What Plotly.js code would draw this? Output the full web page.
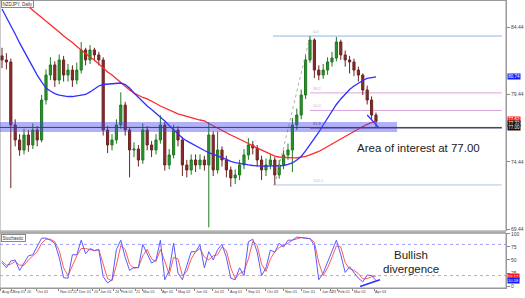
<!DOCTYPE html>
<html>
<head>
<meta charset="utf-8">
<script src="https://cdn.plot.ly/plotly-3.0.1.min.js"></script>
<style>html,body{margin:0;padding:0;background:#fff;}#chart{width:525px;height:298px;}</style>
</head>
<body>
<div id="chart"></div>
<script>
const open = [82.3,82.0,81.85,77.18,76.07,75.33,76.44,75.70,76.81,76.07,
  79.03,80.88,81.63,80.51,82.0,80.88,81.25,80.51,81.25,82.74,
  82.0,82.74,82.37,82.0,76.81,75.70,76.07,77.18,78.66,76.81,
  75.33,75.40,74.59,76.81,75.70,75.33,76.07,77.18,74.22,74.96,
  76.81,76.07,74.22,73.85,74.59,74.22,74.59,74.22,76.44,73.85,
  75.33,74.59,73.85,73.26,73.48,74.22,74.96,75.70,75.48,74.59,
  73.85,74.22,74.59,73.48,74.22,74.96,75.33,77.18,77.92,79.40,
  82.0,83.48,81.25,80.88,81.25,81.85,82.14,83.33,82.37,82.0,
  81.85,81.25,80.88,79.77,79.03,77.92];
const close = [82.0,81.85,77.18,76.07,75.33,76.44,75.70,76.81,76.07,79.03,
  80.88,81.63,80.51,82.0,80.88,81.25,80.51,81.25,82.74,82.0,
  82.74,82.37,82.0,76.81,75.70,76.07,77.18,78.66,76.81,75.33,
  75.40,74.59,76.81,75.70,75.33,76.07,77.18,74.22,74.96,76.81,
  76.07,74.22,73.85,74.59,74.22,74.59,74.22,76.44,73.85,75.33,
  74.59,73.85,73.26,73.48,74.22,74.96,75.70,75.48,74.59,73.85,
  74.22,74.59,73.48,74.22,74.96,75.33,77.18,77.92,79.40,82.0,
  83.48,81.25,80.88,81.25,81.85,82.14,83.33,82.37,82.0,81.85,
  81.25,80.88,79.77,79.03,77.92,77.45];
const high = [82.9,82.5,82.1,77.6,76.5,76.9,76.8,77.3,77.1,79.4,
  81.3,82.2,81.9,82.4,82.3,81.7,81.6,81.8,83.33,82.9,
  83.1,82.9,82.6,82.2,77.1,76.5,77.6,79.6,78.9,77.0,
  75.9,75.7,77.3,77.1,76.0,76.5,77.9,77.4,75.4,77.2,
  77.1,76.3,74.6,75.0,75.0,75.0,74.9,77.4,76.7,76.7,
  75.6,74.9,74.1,73.9,74.6,75.4,76.2,76.0,75.7,74.9,
  74.7,75.0,74.8,74.6,75.3,75.8,77.7,78.4,79.8,82.4,
  83.77,83.6,81.6,81.7,82.2,82.6,83.7,83.5,82.7,82.3,
  82.1,81.5,81.0,80.1,79.3,78.1];
const low = [81.4,81.3,72.5,75.6,74.9,75.0,75.2,75.4,75.6,75.9,
  78.7,80.5,80.0,80.2,80.4,80.4,80.0,80.2,81.0,81.6,
  81.7,81.9,81.6,76.4,75.1,75.3,75.8,76.9,76.4,73.3,
  74.8,74.1,74.3,75.3,74.8,75.0,75.8,73.8,73.9,74.7,
  75.6,73.4,73.3,73.5,73.7,73.9,73.8,69.6,73.4,73.6,
  74.1,73.3,72.6,72.8,73.1,73.9,74.6,75.0,74.1,73.1,
  73.4,73.9,72.74,73.2,73.9,74.6,73.7,76.8,77.6,79.1,
  81.8,80.66,80.5,80.6,80.9,81.5,81.9,82.0,81.5,81.0,
  80.8,80.4,79.4,78.7,77.6,76.95];

// ---- Moving averages ----
const maSlow = [87.55,87.26,86.96,86.74,86.44,86.22,85.96,85.66,85.40,85.11,
  84.88,84.63,84.33,84.07,83.77,83.55,83.29,83.0,82.77,82.48,
  82.22,82.0,81.70,81.40,81.11,80.88,80.59,80.29,80.07,79.77,
  79.55,79.37,79.22,79.11,78.96,78.77,78.59,78.44,78.29,78.14,
  78.0,77.92,77.81,77.74,77.63,77.55,77.48,77.29,77.11,76.96,
  76.77,76.63,76.44,76.29,76.14,75.96,75.81,75.63,75.48,75.29,
  75.14,75.0,74.88,74.81,74.77,74.74,74.74,74.74,74.77,74.85,
  74.96,75.07,75.22,75.40,75.59,75.77,75.96,76.14,76.33,76.52,
  76.70,76.89,77.07,77.22,77.37,77.48];
const maFast = [85.77,85.18,84.59,83.92,83.26,82.66,82.0,81.40,80.88,80.37,
  79.92,79.70,79.51,79.40,79.33,79.29,79.29,79.33,79.37,79.44,
  79.63,79.85,80.07,80.18,80.22,80.26,80.29,80.29,80.18,79.92,
  79.55,79.22,78.88,78.59,78.33,78.07,77.81,77.48,77.14,76.81,
  76.48,76.22,76.0,75.81,75.63,75.44,75.29,75.14,75.03,74.88,
  74.77,74.63,74.48,74.40,74.33,74.26,74.22,74.18,74.14,74.14,
  74.14,74.14,74.14,74.14,74.18,74.26,74.37,74.59,74.85,75.26,
  75.70,76.14,76.66,77.18,77.70,78.22,78.70,79.11,79.48,79.81,
  80.07,80.29,80.48,80.63,80.70,80.74];

// ---- Stochastic ----
const stochK = [45,35,48,50,30,45,58,60,75,92,
  92,88,82,55,16,15,60,60,88,62,
  72,68,70,18,6,12,70,88,55,30,
  36,35,80,62,44,50,88,12,30,82,
  25,12,40,66,66,79,35,66,50,70,
  80,55,15,12,35,20,85,90,65,20,
  35,69,65,82,75,88,88,94,93,92,
  91,78,12,25,45,65,88,60,26,37,
  25,15,8,21,20,10.58];
const stochD = [48,40,42,47,40,40,50,58,66,82,
  90,90,85,68,35,20,38,58,72,72,
  70,68,70,42,14,10,40,78,70,42,
  34,36,58,70,52,47,70,48,22,55,
  52,20,28,52,66,72,56,50,58,60,
  75,68,35,14,24,28,52,86,78,42,
  28,52,66,74,78,82,88,91,93,92,
  91,84,45,20,35,55,77,75,45,33,
  30,24,14,14,18,19.12];
const stochLevels = [20, 80];

// ---- Axis labels ----
const xTickVals = [-0.23,2.27,5.45,7.73,12.95,15.91,17.27,20.68,22.05,25.45,26.82,30.23,31.82,36.14,
  39.77,43.86,47.95,51.59,55.68,60.0,64.09,68.18,72.5,74.77,76.14,79.77,84.55];
const xTickText = ['Aug 02','Sep 01','20','Oct 01','Nov 01','22','Dec 01','20','Jan 01','24','Feb 01','21','Mar 01','Apr 01',
  'May 02','Jun 01','Jul 01','Aug 01','Sep 01','Oct 03','Nov 01','Dec 01','Jan 02','23','Feb 01','Mar 01','Apr 03'];
const priceTicks = [69.44, 74.44, 79.44, 84.44];
const priceTickText = ['69.44','74.44','79.44','84.44'];
const stochTicks = [0, 25, 50, 75, 100];

// ---- Analyst drawings ----
const zoneLow = 76.66, zoneHigh = 77.40, zoneLevel = 77.00;
const fibLowIdx = 62, fibHighIdx = 70;
const fibRatios = [0, 0.382, 0.5, 0.618, 1];
const fibLabels = ['0.0', '38.2', '50.0', '61.8', '100.0'];
const trendX = [83, 85.5], trendY = [77.92, 77.03];
const divX = [81.4, 85.9], divY = [-1, 12];
const priceTags = [
  {v: 80.74, t: '80.74', bg: '#1a1aff', fg: '#fff'},
  {v: 77.62, t: '77.62', bg: '#ff1a1a', fg: '#fff'},
  {v: 77.32, t: '77.32', bg: '#111', fg: '#fff'},
  {v: 77.00, t: '77.00', bg: '#111', fg: '#fff'}
];
const stochTags = [
  {v: 19.12, t: '19.12', bg: '#ff1a1a', fg: '#fff'},
  {v: 10.58, t: '10.58', bg: '#1a1aff', fg: '#fff'}
];

// ---------------------------------------------------------------
const xs = close.map((_, i) => i);
const fibHigh = high[fibHighIdx], fibLow = low[fibLowIdx];
const fibPrices = fibRatios.map(r => fibHigh - r * (fibHigh - fibLow));
const fibColors = ['#8fb4e6', '#d9a6d9', '#d9a6d9', '#5b4a72', '#a9c6e6'];
const FONT = 'Liberation Sans, Arial, sans-serif';
const xEnd = 113.6;

const traces = [
  {type: 'candlestick', x: xs, open: open, high: high, low: low, close: close,
   xaxis: 'x', yaxis: 'y', whiskerwidth: 0,
   increasing: {line: {color: '#1f7a1f', width: 1}, fillcolor: '#2f8f2f'},
   decreasing: {line: {color: '#6e2323', width: 1}, fillcolor: '#8b2a2a'},
   hoverinfo: 'skip'},
  {type: 'scatter', mode: 'lines', x: xs, y: maSlow, xaxis: 'x', yaxis: 'y',
   line: {color: '#ff2a2a', width: 1.3}, hoverinfo: 'skip'},
  {type: 'scatter', mode: 'lines', x: xs, y: maFast, xaxis: 'x', yaxis: 'y',
   line: {color: '#2f2fff', width: 1.3}, hoverinfo: 'skip'},
  {type: 'scatter', mode: 'lines', x: [fibLowIdx, fibHighIdx], y: [fibLow, fibHigh], xaxis: 'x', yaxis: 'y',
   line: {color: '#9a9a9a', width: 0.8, dash: 'dot'}, hoverinfo: 'skip'},
  {type: 'scatter', mode: 'lines', x: trendX, y: trendY, xaxis: 'x', yaxis: 'y',
   line: {color: '#2f2fff', width: 1.2}, hoverinfo: 'skip'},
  {type: 'scatter', mode: 'lines', x: xs, y: stochD, xaxis: 'x', yaxis: 'y2',
   line: {color: '#ff5a5a', width: 1}, hoverinfo: 'skip'},
  {type: 'scatter', mode: 'lines', x: xs, y: stochK, xaxis: 'x', yaxis: 'y2',
   line: {color: '#5a5aff', width: 1}, hoverinfo: 'skip'},
  {type: 'scatter', mode: 'lines', x: divX, y: divY, xaxis: 'x', yaxis: 'y2',
   line: {color: '#2f2fff', width: 1.6}, hoverinfo: 'skip'}
];

const shapes = [
  {type: 'rect', xref: 'paper', yref: 'paper', x0: 0, x1: 1, y0: 0.198, y1: 1, line: {color: '#999', width: 1}},
  {type: 'rect', xref: 'paper', yref: 'paper', x0: 0, x1: 1, y0: 0, y1: 0.19, line: {color: '#999', width: 1}},
  {type: 'line', xref: 'paper', yref: 'paper', x0: 0, x1: 1, y0: 1, y1: 1, line: {color: '#999', width: 2}},
  {type: 'line', xref: 'paper', yref: 'paper', x0: 0, x1: 1, y0: 0.194, y1: 0.194, line: {color: '#aaa', width: 2}},
  {type: 'rect', xref: 'x', yref: 'y', x0: -0.5, x1: 89.8, y0: zoneLow, y1: zoneHigh,
   fillcolor: 'rgba(70,70,235,0.42)', line: {width: 0}, layer: 'above'},
  {type: 'line', xref: 'x', yref: 'y', x0: -0.5, x1: xEnd, y0: zoneLevel, y1: zoneLevel,
   line: {color: '#4a3a66', width: 1}, layer: 'above'},
  {type: 'line', xref: 'paper', yref: 'y2', x0: 0, x1: 1, y0: stochLevels[1], y1: stochLevels[1],
   line: {color: '#8080ff', width: 0.8, dash: 'dot'}},
  {type: 'line', xref: 'paper', yref: 'y2', x0: 0, x1: 1, y0: stochLevels[0], y1: stochLevels[0],
   line: {color: '#ff7070', width: 0.8, dash: 'dot'}}
];
fibPrices.forEach((p, i) => {
  const startIdx = (i === 0 || i === fibPrices.length - 1) ? fibLowIdx - 0.4 : fibHighIdx;
  shapes.push({type: 'line', xref: 'x', yref: 'y', x0: startIdx, x1: xEnd, y0: p, y1: p,
    line: {color: fibColors[i], width: 1}, layer: 'below'});
});

const annotations = [
  {xref: 'paper', yref: 'paper', x: 0.827, y: 0.486, xanchor: 'center', yanchor: 'middle',
   text: 'Area of interest at 77.00', showarrow: false, font: {family: FONT, size: 11.5, color: '#222'}},
  {xref: 'paper', yref: 'paper', x: 0.812, y: 0.1146, xanchor: 'center', yanchor: 'middle',
   text: 'Bullish', showarrow: false, font: {family: FONT, size: 11.5, color: '#222'}},
  {xref: 'paper', yref: 'paper', x: 0.812, y: 0.066, xanchor: 'center', yanchor: 'middle',
   text: 'divergence', showarrow: false, font: {family: FONT, size: 11.5, color: '#222'}},
  {xref: 'paper', yref: 'paper', x: 0.001, y: 0.999, xanchor: 'left', yanchor: 'top', text: 'NZDJPY, Daily',
   showarrow: false, font: {family: FONT, size: 4.5, color: '#333'}, bgcolor: '#fff', bordercolor: '#888', borderwidth: 1, borderpad: 0.5},
  {xref: 'paper', yref: 'paper', x: 0.001, y: 0.189, xanchor: 'left', yanchor: 'top', text: 'Stochastic',
   showarrow: false, font: {family: FONT, size: 4.5, color: '#333'}, bgcolor: '#fff', bordercolor: '#888', borderwidth: 1, borderpad: 0.5}
];
fibPrices.forEach((p, i) => {
  annotations.push({xref: 'x', yref: 'y', x: fibHighIdx + 0.3, y: p, xanchor: 'left', yanchor: 'bottom',
    text: fibLabels[i], showarrow: false, font: {family: FONT, size: 4, color: fibColors[i]}});
});
priceTags.forEach(t => annotations.push({xref: 'paper', yref: 'y', x: 1, y: t.v, xanchor: 'left', yanchor: 'middle',
  text: t.t, showarrow: false, bgcolor: t.bg, font: {family: FONT, size: 4.5, color: t.fg}, borderpad: 0.2, xshift: 1}));
stochTags.forEach(t => annotations.push({xref: 'paper', yref: 'y2', x: 1, y: t.v, xanchor: 'left', yanchor: 'middle',
  text: t.t, showarrow: false, bgcolor: t.bg, font: {family: FONT, size: 4, color: t.fg}, borderpad: 0.1, xshift: 1}));

const tickFont = {family: FONT, size: 5, color: '#444'};
const layout = {
  width: 525, height: 298,
  margin: {l: 0, r: 19, t: 0, b: 10, pad: 0},
  paper_bgcolor: '#fff', plot_bgcolor: '#fff',
  showlegend: false,
  xaxis: {range: [-0.4545, 114.55], anchor: 'y2', showgrid: false, zeroline: false,
    tickmode: 'array', tickvals: xTickVals, ticktext: xTickText, ticks: 'outside', ticklen: 2,
    tickangle: 0, automargin: false,
    tickcolor: '#888', tickfont: {family: FONT, size: 3.8, color: '#444'},
    ticklabelposition: 'outside right', ticklabelstandoff: -1,
    showline: true, linecolor: '#999', rangeslider: {visible: false}, fixedrange: true},
  yaxis: {domain: [0.198, 1], range: [69.33, 86.44], side: 'right', anchor: 'x',
    tickmode: 'array', tickvals: priceTicks, ticktext: priceTickText, ticks: 'outside', ticklen: 3,
    tickcolor: '#888', tickfont: tickFont, showgrid: false, zeroline: false,
    showline: true, linecolor: '#999', fixedrange: true},
  yaxis2: {domain: [0, 0.19], range: [-3.8, 101.3], side: 'right', anchor: 'x',
    tickmode: 'array', tickvals: stochTicks, ticks: 'outside', ticklen: 3,
    tickcolor: '#888', tickfont: tickFont, showgrid: false, zeroline: false,
    showline: true, linecolor: '#999', fixedrange: true},
  shapes: shapes,
  annotations: annotations
};

Plotly.newPlot('chart', traces, layout, {displayModeBar: false, staticPlot: true});
</script>
</body>
</html>
